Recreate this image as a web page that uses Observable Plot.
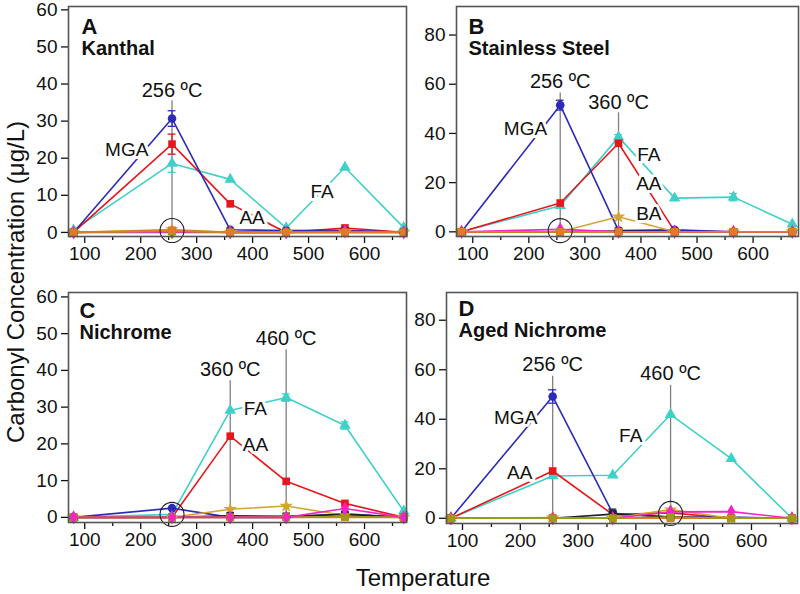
<!DOCTYPE html>
<html>
<head>
<meta charset="utf-8">
<script src="https://cdn.jsdelivr.net/npm/d3@7"></script>
<script src="https://cdn.jsdelivr.net/npm/@observablehq/plot@0.6"></script>
<style>
  body { margin: 0; background: #fff; }
  #wrap { position: relative; width: 800px; height: 594px; font-family: "Liberation Sans", Arial, Helvetica, sans-serif; color: #111; }
  .panel { position: absolute; z-index: 1; }
  #ytitle { position: absolute; z-index: 5; left: 16px; top: 282px; transform: translate(-50%, -50%) rotate(-90deg); white-space: nowrap; font-size: 24px; }
  #xtitle { position: absolute; z-index: 5; left: 423px; top: 578px; transform: translate(-50%, -50%); white-space: nowrap; font-size: 24px; }
</style>
</head>
<body>
<div id="wrap">
  <div id="ytitle">Carbonyl Concentration (μg/L)</div>
  <div id="xtitle">Temperature</div>
</div>
<script>
// ---------- data ----------
const temps = [80, 256, 360, 460, 565, 670];
const seriesNames = ["FA", "AA", "MGA", "BA", "other (black)", "other (olive)", "other (orange)", "other (magenta)"];
const seriesColors = ["#3fd0c8", "#e8161c", "#2b2bb8", "#d4a534", "#222222", "#a09a14", "#e07b2a", "#f224c6"];
const seriesSymbols = ["triangle", "square", "circle", "star", "square", "square", "square", "diamond"];
const majorTicksX = [100, 200, 300, 400, 500, 600];
const minorTicksX = [150, 250, 350, 450, 550, 650];

// Panel A - Kanthal (rows follow seriesNames)
const kanthalValues = [
  [0.6, 18.6, 14.3, 1.2, 17.5, 1.3],
  [0, 23.8, 7.7, 0, 1.2, 0],
  [0, 30.7, 0.7, 0.5, 0.6, 0],
  [0, 0.8, 0, 0, 0, 0],
  [0, 0.3, 0, 0, 0.3, 0],
  [0, 0.3, 0, 0, 0, 0],
  [0, 0.6, 0, 0, 0, 0],
  [0, 0, 0, 0, 0.3, 0]
];
const kanthalErrors = [["FA", 256, 2.4], ["AA", 256, 2.7], ["MGA", 256, 2.1]];
const kanthalLabels = [["MGA", 175, 22.2], ["AA", 399, 4.0], ["FA", 524, 10.8]];
const kanthalMarks = [[256, 35.5, 36.6]];
const kanthalCircles = [[256, 0.5]];
const kanthalOrder = ["FA", "AA", "MGA", "BA", "other (black)", "other (magenta)", "other (olive)", "other (orange)"];

// Panel B - Stainless Steel
const steelValues = [
  [0, 10.6, 38.5, 13.7, 14.1, 3.1],
  [0, 11.7, 36.0, 0.3, 0, 0],
  [0, 51.5, 0.5, 0.8, 0, 0],
  [0, 0, 6.1, 0, 0, 0],
  [0, 0, 0.3, 0, 0, 0],
  [0, 0, 0, 0, 0, 0],
  [0, 0, 0, 0, 0, 0],
  [0, 1.0, 0, 0, 0, 0]
];
const steelErrors = [["MGA", 256, 2.0], ["FA", 565, 1.5], ["FA", 360, 1.0]];
const steelLabels = [["MGA", 194, 41.8], ["FA", 414, 31.3], ["AA", 414, 19.4], ["BA", 414, 7.2]];
const steelMarks = [[256, 56.4, 58.3], [360, 48.4, 50.0]];
const steelCircles = [[256, 0.5]];
const steelOrder = ["FA", "AA", "MGA", "BA", "other (black)", "other (olive)", "other (magenta)", "other (orange)"];

// Panel C - Nichrome
const nichromeValues = [
  [0, 0.8, 29.1, 32.6, 25.0, 1.7],
  [0, 0, 22.1, 9.8, 3.8, 0],
  [0, 2.5, 0, 0, 1.0, 0],
  [0, 0, 2.2, 3.1, 0.5, 0],
  [0, 0, 0.4, 0.3, 0.8, 0],
  [0, 0, 0, 0, 0.2, 0],
  [0, 0, 0, 0, 0, 0],
  [0, 0, 0, 0, 2.4, 0]
];
const nichromeErrors = [["FA", 460, 1.0], ["FA", 565, 1.0]];
const nichromeLabels = [["FA", 405, 29.5], ["AA", 405, 19.8]];
const nichromeMarks = [[360, 37.2, 38.6], [460, 45.6, 47.0]];
const nichromeCircles = [[256, 0.8]];
const nichromeOrder = ["FA", "AA", "MGA", "BA", "other (black)", "other (orange)", "other (olive)", "other (magenta)"];

// Panel D - Aged Nichrome
const agedValues = [
  [0, 17.1, 17.4, 41.9, 24.1, 0],
  [0, 19.1, 1.5, 2.2, 0, 0],
  [0, 49.2, 2.0, 0.5, 0.5, 0],
  [0, 0.3, 0, 3.5, 0, 0],
  [0, 0, 1.7, 0.5, 0, 0],
  [0, 0, 0, 0.5, 0, 0],
  [0, 0, 0, 0, 0, 0],
  [0, 0, 0, 2.6, 2.7, 0]
];
const agedErrors = [["MGA", 256, 2.7], ["other (black)", 360, 2.0]];
const agedLabels = [["MGA", 192, 40.7], ["AA", 199, 18.3], ["FA", 391, 33.1]];
const agedMarks = [[256, 57.4, 59.3], [460, 53.7, 55.8]];
const agedCircles = [[460, 2.0]];
const agedOrder = ["FA", "AA", "MGA", "other (black)", "other (orange)", "BA", "other (magenta)", "other (olive)"];

// ---------- drawing ----------
function panel(opts) {
  const rows = [];
  opts.order.forEach(name => {
    const s = seriesNames.indexOf(name);
    opts.values[s].forEach((v, i) => rows.push({series: name, t: temps[i], v}));
  });
  const errRows = opts.errors.map(([series, t, e]) => {
    const s = seriesNames.indexOf(series);
    const v = opts.values[s][temps.indexOf(t)];
    return {series, t, v, e};
  });
  const chart = Plot.plot({
    width: opts.width,
    height: opts.height,
    marginLeft: opts.ml, marginRight: opts.mr, marginTop: opts.mt, marginBottom: opts.mb,
    style: {fontSize: "19px", fontFamily: "'Liberation Sans', Arial, Helvetica, sans-serif", color: "#111", background: "white", overflow: "visible"},
    x: {domain: opts.xDomain, axis: null},
    y: {domain: opts.yDomain, axis: null},
    color: {domain: seriesNames, range: seriesColors},
    symbol: {domain: seriesNames, range: seriesSymbols},
    marks: [
      Plot.axisX(majorTicksX, {tickSize: 7, tickPadding: 3, label: null, strokeWidth: 1.3, fontSize: 19}),
      Plot.axisX(minorTicksX, {tickSize: 4, tickFormat: () => "", label: null, strokeWidth: 1.3}),
      Plot.axisY(opts.yTicks, {tickSize: 7, tickPadding: 4, label: null, strokeWidth: 1.3, fontSize: 19}),
      Plot.ruleX(opts.marks, {x: d => d[0], y1: 0, y2: d => d[1], stroke: "#808080", strokeWidth: 1.3}),
      Plot.line(rows, {x: "t", y: "v", z: "series", stroke: "series", strokeWidth: 1.6}),
      Plot.ruleX(errRows, {x: "t", y1: d => d.v - d.e, y2: d => d.v + d.e, stroke: "series", strokeWidth: 1.3}),
      Plot.ruleY(errRows, {x1: d => d.t - 7, x2: d => d.t + 7, y: d => d.v + d.e, stroke: "series", strokeWidth: 1.3}),
      Plot.ruleY(errRows, {x1: d => d.t - 7, x2: d => d.t + 7, y: d => d.v - d.e, stroke: "series", strokeWidth: 1.3}),
      Plot.dot(rows, {x: "t", y: "v", symbol: "series", fill: "series", r: 4.3}),
      Plot.dot(opts.circles, {x: d => d[0], y: d => d[1], r: 12, stroke: "#222", fill: "none", strokeWidth: 1.1}),
      Plot.text(opts.labels, {x: d => d[1], y: d => d[2], text: d => d[0], fontSize: 19, fill: "#111", stroke: "white", strokeWidth: 6, paintOrder: "stroke"}),
      Plot.text(opts.marks, {x: d => d[0], y: d => d[2], text: d => `${d[0]} ºC`, fontSize: 20, fill: "#111", lineAnchor: "bottom"}),
      Plot.frame({stroke: "#555", strokeWidth: 1.6}),
      Plot.text([opts.letter], {frameAnchor: "top-left", dx: opts.ldx, dy: opts.ldy, text: d => d, fontSize: 22, fontWeight: "bold", textAnchor: "start", lineAnchor: "top", fill: "#111"}),
      Plot.text([opts.name], {frameAnchor: "top-left", dx: opts.ldx, dy: opts.ldy + 22, text: d => d, fontSize: 20, fontWeight: "bold", textAnchor: "start", lineAnchor: "top", fill: "#111"})
    ]
  });
  const holder = document.createElement("div");
  holder.className = "panel";
  holder.style.left = opts.left + "px";
  holder.style.top = opts.top + "px";
  holder.appendChild(chart);
  document.getElementById("wrap").appendChild(holder);
}

panel({letter: "A", name: "Kanthal", values: kanthalValues, errors: kanthalErrors, labels: kanthalLabels, marks: kanthalMarks, circles: kanthalCircles, order: kanthalOrder,
  left: 0, top: 0, width: 410, height: 270, ml: 68, mr: 4, mt: 6, mb: 34,
  xDomain: [71, 675], yDomain: [-1.1, 60.9], yTicks: [0, 10, 20, 30, 40, 50, 60], ldx: 13, ldy: 12});
panel({letter: "B", name: "Stainless Steel", values: steelValues, errors: steelErrors, labels: steelLabels, marks: steelMarks, circles: steelCircles, order: steelOrder,
  left: 410, top: 0, width: 390, height: 270, ml: 46, mr: 2, mt: 6, mb: 34,
  xDomain: [71, 681], yDomain: [-1.9, 91.6], yTicks: [0, 20, 40, 60, 80], ldx: 12, ldy: 12});
panel({letter: "C", name: "Nichrome", values: nichromeValues, errors: nichromeErrors, labels: nichromeLabels, marks: nichromeMarks, circles: nichromeCircles, order: nichromeOrder,
  left: 0, top: 280, width: 410, height: 270, ml: 68, mr: 4, mt: 12, mb: 28,
  xDomain: [71, 675], yDomain: [-1.4, 61.2], yTicks: [0, 10, 20, 30, 40, 50, 60], ldx: 11, ldy: 10});
panel({letter: "D", name: "Aged Nichrome", values: agedValues, errors: agedErrors, labels: agedLabels, marks: agedMarks, circles: agedCircles, order: agedOrder,
  left: 410, top: 280, width: 390, height: 270, ml: 36, mr: 3, mt: 12, mb: 27,
  xDomain: [72.3, 679.6], yDomain: [-2.1, 91.2], yTicks: [0, 20, 40, 60, 80], ldx: 12, ldy: 8});
</script>
</body>
</html>
